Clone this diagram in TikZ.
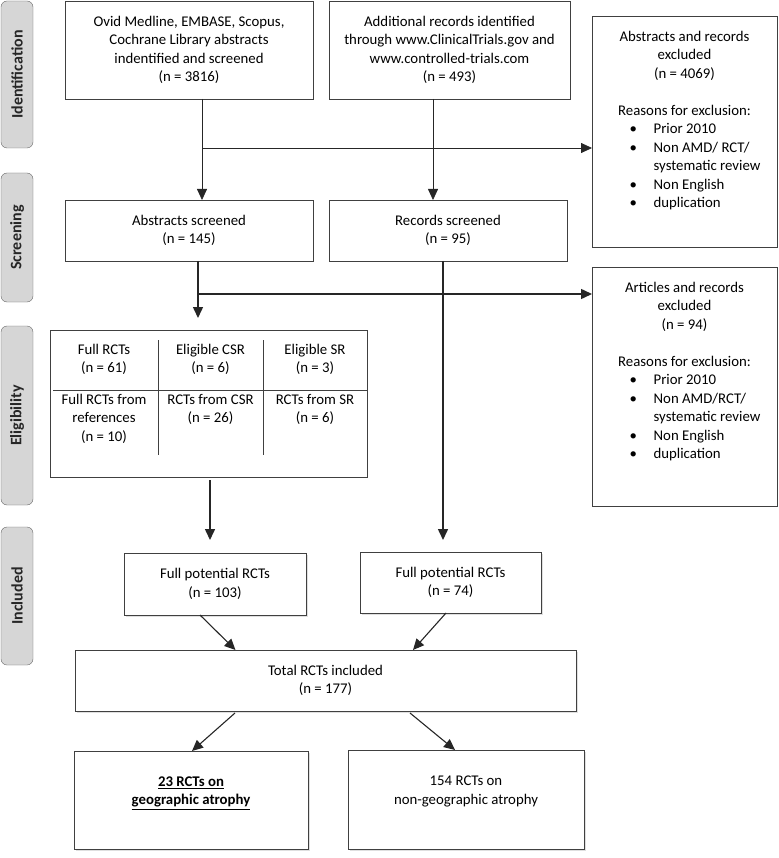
\documentclass[tikz,border=0pt]{standalone}
\usepackage{fontspec}
\setmainfont{Carlito}
\usetikzlibrary{arrows.meta, positioning, shadows, calc}

\tikzset{
    stage/.style={draw=black!60, fill=black!16, rounded corners=6pt, rotate=90,
        minimum height=32pt, inner sep=0pt, text=black!85,
        font=\fontsize{16}{18}\selectfont\bfseries},
    box/.style={draw=black!75, fill=white, line width=0.9pt, inner sep=0pt, outer sep=0pt, align=center},
    shade/.style={drop shadow={shadow xshift=1.5pt, shadow yshift=-1.5pt, fill=black!25}},
    cell/.style={align=center, inner sep=0pt},
    flow/.style={-{Triangle[length=11pt, width=10pt]}, line width=0.8pt, draw=black!85},
    flowthick/.style={flow, line width=1.5pt},
    flowslant/.style={flow, line width=1.1pt}
}

\begin{document}
\begin{tikzpicture}[x=1pt, y=-1pt, font=\fontsize{14.8}{18.5}\selectfont, text=black]
    \useasboundingbox (0,0) rectangle (778,858);

    % phase labels
    \node[stage, minimum width=147pt] (ident) at (17,74.5) {Identification};
    \node[stage, minimum width=129pt] (screen) at (17,237.5) {Screening};
    \node[stage, minimum width=179pt] (eligib) at (17,415.5) {Eligibility};
    \node[stage, minimum width=138pt] (incl) at (17,596) {Included};

    % identification
    \node[box, minimum width=248pt, minimum height=98pt] (ovid) at (189,50)
        {Ovid Medline, EMBASE, Scopus,\\Cochrane Library abstracts\\indentified and screened\\(n = 3816)};
    \node[box, minimum width=241pt, minimum height=98pt] (extra) at (449.5,50)
        {Additional records identified\\through www.ClinicalTrials.gov and\\www.controlled-trials.com\\(n = 493)};
    \node[box, minimum width=185pt, minimum height=231pt] (excl1) at (684.5,131.5) {};
    \node[cell, anchor=north] (excl1txt) at ($(excl1.north)+(0,15)$)
        {Abstracts and records\\excluded\\(n = 4069)\\[18.5pt]Reasons for exclusion:\\
        \hspace*{21pt}\begin{tabular}[t]{@{}l@{}l@{}}
            \makebox[24pt][l]{\textbullet} & Prior 2010\\
            \makebox[24pt][l]{\textbullet} & Non AMD/ RCT/\\
             & systematic review\\
            \makebox[24pt][l]{\textbullet} & Non English\\
            \makebox[24pt][l]{\textbullet} & duplication
        \end{tabular}};

    % screening
    \node[box, minimum width=248pt, minimum height=61pt] (abs) at (189,230.5)
        {Abstracts screened\\(n = 145)};
    \node[box, minimum width=238pt, minimum height=61pt] (rec) at (448,230.5)
        {Records screened\\(n = 95)};
    \node[box, minimum width=185pt, minimum height=239pt] (excl2) at (684.5,386.5) {};
    \node[cell, anchor=north] (excl2txt) at ($(excl2.north)+(0,15)$)
        {Articles and records\\excluded\\(n = 94)\\[18.5pt]Reasons for exclusion:\\
        \hspace*{21pt}\begin{tabular}[t]{@{}l@{}l@{}}
            \makebox[24pt][l]{\textbullet} & Prior 2010\\
            \makebox[24pt][l]{\textbullet} & Non AMD/RCT/\\
             & systematic review\\
            \makebox[24pt][l]{\textbullet} & Non English\\
            \makebox[24pt][l]{\textbullet} & duplication
        \end{tabular}};

    % eligibility table
    \node[box, minimum width=317pt, minimum height=147pt] (elig) at (208.5,403.5) {};
    \draw[black!75, line width=0.9pt] (158,340) -- (158,455) (263,340) -- (263,455)
        (53,390) -- (367,390);
    \node[cell] (fullrct) at (104,359.5) {Full RCTs\\(n = 61)};
    \node[cell] (csr) at (210.5,359.5) {Eligible CSR\\(n = 6)};
    \node[cell] (sr) at (315,359.5) {Eligible SR\\(n = 3)};
    \node[cell, anchor=north] (fromref) at (104,394) {Full RCTs from\\references\\(n = 10)};
    \node[cell, anchor=north] (fromcsr) at (210.5,394) {RCTs from CSR\\(n = 26)};
    \node[cell, anchor=north] (fromsr) at (315,394) {RCTs from SR\\(n = 6)};

    % included
    \node[box, shade, minimum width=182pt, minimum height=62pt] (pot1) at (215,584)
        {Full potential RCTs\\(n = 103)};
    \node[box, shade, minimum width=181pt, minimum height=61pt] (pot2) at (450.5,582.5)
        {Full potential RCTs\\(n = 74)};
    \node[box, shade, minimum width=501pt, minimum height=61pt] (total) at (325.5,680.5)
        {Total RCTs included\\(n = 177)};
    \node[box, shade, minimum width=234pt, minimum height=98pt] (ga) at (191,800)
        {\underline{\textbf{23 RCTs on}}\\\underline{\textbf{geographic atrophy}}\\~};
    \node[box, shade, minimum width=236pt, minimum height=99pt] (nonga) at (466,799.5)
        {154 RCTs on\\non-geographic atrophy\\~};

    % connectors
    \coordinate (colA) at (202,148);
    \coordinate (colB) at (433,0);
    \coordinate (colD) at (198,294);
    \coordinate (colE) at (443,0);
    \coordinate (colG) at (210,0);
    \draw[flow] (ovid.south -| colA) -- (abs.north -| colA);
    \draw[flow] (colA) -- (colA -| excl1.west);
    \draw[flow] (extra.south -| colB) -- (rec.north -| colB);
    \draw[flowthick] (abs.south -| colD) -- ($(elig.north -| colD)+(0,-12)$);
    \draw[flowthick] (colD) -- (colD -| excl2.west);
    \draw[flowthick] (rec.south -| colE) -- ($(pot2.north -| colE)+(0,-12)$);
    \draw[flowthick] ($(elig.south -| colG)+(0,3)$) -- ($(pot1.north -| colG)+(0,-13)$);
    \draw[flowslant] ($(pot1.south)+(-15,0)$) -- ($(total.north)+(-90,0)$);
    \draw[flowslant] ($(pot2.south)+(-4.5,0)$) -- ($(total.north)+(87.5,0)$);
    \draw[flowslant] ($(total.south)+(-90.5,2)$) -- ($(ga.north)+(1,0)$);
    \draw[flowslant] ($(total.south)+(84.5,2)$) -- ($(nonga.north)+(-11,0)$);
\end{tikzpicture}
\end{document}
